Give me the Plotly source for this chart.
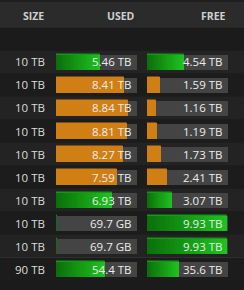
import plotly.graph_objects as go

# ---- data ----
headers = ["SIZE", "USED", "FREE"]
size_labels = ["10 TB", "10 TB", "10 TB", "10 TB", "10 TB", "10 TB", "10 TB", "10 TB", "10 TB", "90 TB"]
size_tb = [10, 10, 10, 10, 10, 10, 10, 10, 10, 90]
used_tb = [5.46, 8.41, 8.84, 8.81, 8.27, 7.59, 6.93, 0.0697, 0.0697, 54.4]
free_tb = [4.54, 1.59, 1.16, 1.19, 1.73, 2.41, 3.07, 9.93, 9.93, 35.6]
used_labels = ["5.46 TB", "8.41 TB", "8.84 TB", "8.81 TB", "8.27 TB", "7.59 TB", "6.93 TB", "69.7 GB", "69.7 GB", "54.4 TB"]
free_labels = ["4.54 TB", "1.59 TB", "1.16 TB", "1.19 TB", "1.73 TB", "2.41 TB", "3.07 TB", "9.93 TB", "9.93 TB", "35.6 TB"]

# ---- style ----
W, H = 244, 290
FONT = "Open Sans"
ORANGE = "#d07f15"
DARK_G = (11, 112, 11)
BRIGHT_G = (30, 194, 30)
TRACK = "#444444"
ROW_A = "#232323"
ROW_B = "#1c1c1c"
PAPER = "#1b1b1b"
HEADER = "#2b2b2b"
N = 24

n = len(size_tb)
rows = list(range(n))
used_frac = [u / s for u, s in zip(used_tb, size_tb)]
free_frac = [f / s for f, s in zip(free_tb, size_tb)]
used_orange = [f > 0.75 for f in used_frac]
free_orange = [f < 0.25 for f in free_frac]


def px_y(p):
    return 1 - p / H


def px_x(p):
    return p / W


def green(t):
    c = [round(a + (b - a) * t) for a, b in zip(DARK_G, BRIGHT_G)]
    return "rgb(%d,%d,%d)" % tuple(c)


fig = go.Figure()

BAR_W = 0.68
for ax, fracs, orange in (("x", used_frac, used_orange), ("x2", free_frac, free_orange)):
    fig.add_trace(go.Bar(
        y=rows, x=[1] * n, base=0, orientation="h", width=BAR_W,
        marker=dict(color=TRACK, line=dict(width=0)),
        xaxis=ax, yaxis="y", hoverinfo="skip", showlegend=False))
    # outline pass so that very thin fills stay visible
    edge_cols = [ORANGE if o else green(0.5) for o in orange]
    fig.add_trace(go.Bar(
        y=rows, x=fracs, base=0, orientation="h", width=BAR_W * 0.9,
        marker=dict(color=edge_cols, line=dict(width=1, color=edge_cols)),
        xaxis=ax, yaxis="y", hoverinfo="skip", showlegend=False))
    for k in range(N):
        f = (N - k) / N
        t = (N - 1 - k) / (N - 1)
        cols = [ORANGE if o else green(t) for o in orange]
        fig.add_trace(go.Bar(
            y=rows, x=[v * f for v in fracs], base=0, orientation="h", width=BAR_W,
            marker=dict(color=cols, line=dict(width=0)),
            xaxis=ax, yaxis="y", hoverinfo="skip", showlegend=False))

# ---- backgrounds ----
shapes = []
shapes.append(dict(type="rect", xref="paper", yref="paper", x0=0, x1=1,
                   y0=px_y(27.7), y1=px_y(2), fillcolor=HEADER, line=dict(width=0), layer="below"))
shapes.append(dict(type="rect", xref="paper", yref="paper", x0=0, x1=1,
                   y0=px_y(2), y1=1, fillcolor="#1f1f1f", line=dict(width=0), layer="below"))
for i in rows:
    shapes.append(dict(type="rect", xref="paper", yref="y", x0=0, x1=1,
                       y0=i - 0.5, y1=i + 0.5, fillcolor=ROW_A if i % 2 == 0 else ROW_B,
                       line=dict(width=0), layer="below"))
shapes.append(dict(type="line", xref="paper", yref="y", x0=0, x1=1,
                   y0=n - 1.5, y1=n - 1.5, line=dict(color="#2f2f2f", width=1), layer="below"))

# ---- text ----
ann = []
header_x = [46, 137, 227.5]
for h, xp in zip(headers, header_x):
    ann.append(dict(text=h, xref="paper", yref="paper", x=px_x(xp), y=px_y(16.2),
                    xanchor="right", yanchor="middle", showarrow=False,
                    font=dict(family=FONT, size=10.5, color="#cfcfcf", weight="bold")))
for i in rows:
    ann.append(dict(text=size_labels[i], xref="paper", yref="y", x=px_x(46.5), y=i,
                    xanchor="right", yanchor="middle", showarrow=False,
                    font=dict(family=FONT, size=11.5, color="#dcdcdc")))
    ann.append(dict(text=used_labels[i], xref="x", yref="y", x=1, y=i, xshift=-3,
                    xanchor="right", yanchor="middle", showarrow=False,
                    font=dict(family=FONT, size=11.5, color="#ececec")))
    ann.append(dict(text=free_labels[i], xref="x2", yref="y", x=1, y=i, xshift=-3.5,
                    xanchor="right", yanchor="middle", showarrow=False,
                    font=dict(family=FONT, size=11.5, color="#ececec")))

axis_common = dict(range=[0, 1], showgrid=False, zeroline=False, showticklabels=False,
                   showline=False, ticks="", fixedrange=True)
fig.update_layout(
    width=W, height=H, margin=dict(l=0, r=0, t=0, b=0),
    paper_bgcolor=PAPER, plot_bgcolor="rgba(0,0,0,0)",
    barmode="overlay", bargap=0,
    xaxis=dict(domain=[px_x(56), px_x(137)], anchor="y", **axis_common),
    xaxis2=dict(domain=[px_x(147), px_x(228)], anchor="y", **axis_common),
    yaxis=dict(domain=[px_y(280.5), px_y(50.5)], range=[n - 0.5, -0.5],
               showgrid=False, zeroline=False, showticklabels=False, ticks="", fixedrange=True),
    shapes=shapes, annotations=ann, showlegend=False,
)

fig.write_html("out.html", config={"displayModeBar": False})
